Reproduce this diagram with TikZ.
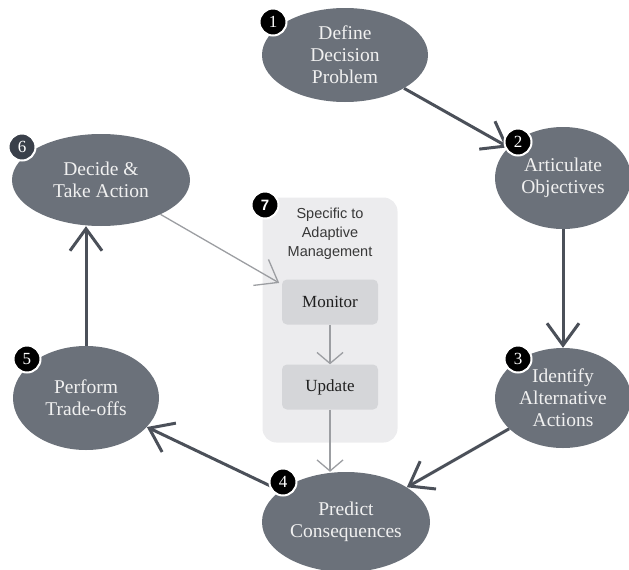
\documentclass[tikz,border=0pt]{standalone}
\usepackage{fontspec}
\setmainfont{Liberation Serif}
\setsansfont{Liberation Sans}
\usetikzlibrary{arrows.meta,shapes.geometric}
\pgfdeclarelayer{nodelayer}
\pgfdeclarelayer{edgelayer}
\pgfdeclarelayer{panellayer}
\pgfsetlayers{panellayer,edgelayer,nodelayer,main}
\definecolor{stagegray}{HTML}{6B717A}
\definecolor{edgegray}{HTML}{4B5059}
\definecolor{panelgray}{HTML}{ECECEE}
\definecolor{taskgray}{HTML}{D5D6D9}
\definecolor{thingray}{HTML}{9C9EA2}
\definecolor{badgeslate}{HTML}{3A404A}
\tikzstyle{stage}=[fill=stagegray, draw=none, shape=ellipse, inner sep=0pt, text=white!94!black, align=center, font=\fontsize{19.5}{22}\selectfont]
\tikzstyle{badge}=[fill=black, draw=white, line width=2pt, shape=circle, minimum size=27pt, inner sep=0pt, text=white, font=\fontsize{17}{17}\selectfont]
\tikzstyle{panel}=[fill=panelgray, draw=none, rounded corners=14pt, minimum width=135pt, minimum height=245pt]
\tikzstyle{task box}=[fill=taskgray, draw=none, rounded corners=5pt, minimum width=96pt, minimum height=45pt, font=\fontsize{17}{17}\selectfont, text=black!88]
\tikzstyle{cycle edge}=[draw=edgegray, line width=3pt, -{Straight Barb[length=22pt, width=32pt]}]
\tikzstyle{inner edge}=[draw=thingray, line width=1.3pt, -{Straight Barb[length=11pt, width=26pt]}]

\begin{document}
\begin{tikzpicture}[x=1pt, y=-1pt]
	\useasboundingbox (0, 0) rectangle (629, 570);
	\begin{pgfonlayer}{panellayer}
		\node [style=panel] (7) at (330, 320) {};
	\end{pgfonlayer}
	\begin{pgfonlayer}{nodelayer}
		\node [style=stage, minimum width=166pt, minimum height=94pt] (1) at (345, 55) {Define\\Decision\\Problem};
		\node [style=stage, minimum width=136pt, minimum height=102pt] (2) at (563, 178) {Articulate\\Objectives};
		\node [style=stage, minimum width=136pt, minimum height=100pt] (3) at (563, 398) {Identify\\Alternative\\Actions};
		\node [style=stage, minimum width=168pt, minimum height=100pt] (4) at (346, 522) {Predict\\Consequences};
		\node [style=stage, minimum width=146pt, minimum height=104pt] (5) at (86, 398) {Perform\\Trade-offs};
		\node [style=stage, minimum width=178pt, minimum height=92pt] (6) at (101, 180) {Decide \&\\Take Action};
		\node [style=badge] (b1) at (273, 22) {1};
		\node [style=badge] (b2) at (518, 142) {2};
		\node [style=badge] (b3) at (518, 359) {3};
		\node [style=badge] (b4) at (283, 482) {4};
		\node [style=badge] (b5) at (27, 359) {5};
		\node [style=badge, fill=badgeslate] (b6) at (22, 147) {6};
		\node [style=badge, font=\fontsize{15}{15}\sffamily\bfseries] (b7) at (265, 205) {7};
		\node [text=black!78, align=center, font=\fontsize{14.5}{19}\sffamily] (adaptive) at (330, 234) {Specific to\\Adaptive\\Management};
		\node [style=task box] (monitor) at (330, 302) {Monitor};
		\node [style=task box] (update) at (330, 387) {Update};
	\end{pgfonlayer}
	\begin{pgfonlayer}{edgelayer}
		\draw [style=cycle edge] (1) to (2);
		\draw [style=cycle edge] (2) to (3);
		\draw [style=cycle edge] (3) to (4);
		\draw [style=cycle edge] (4) to (5);
		\draw [style=cycle edge] (5) to (5 |- 6.south);
		\draw [style=inner edge, -{Straight Barb[length=20pt, width=30pt]}, shorten >=3pt] (6) to (monitor.160);
		\draw [style=inner edge] (monitor) to (update);
		\draw [style=inner edge] (update) to (update |- 4.north);
	\end{pgfonlayer}
\end{tikzpicture}
\end{document}
